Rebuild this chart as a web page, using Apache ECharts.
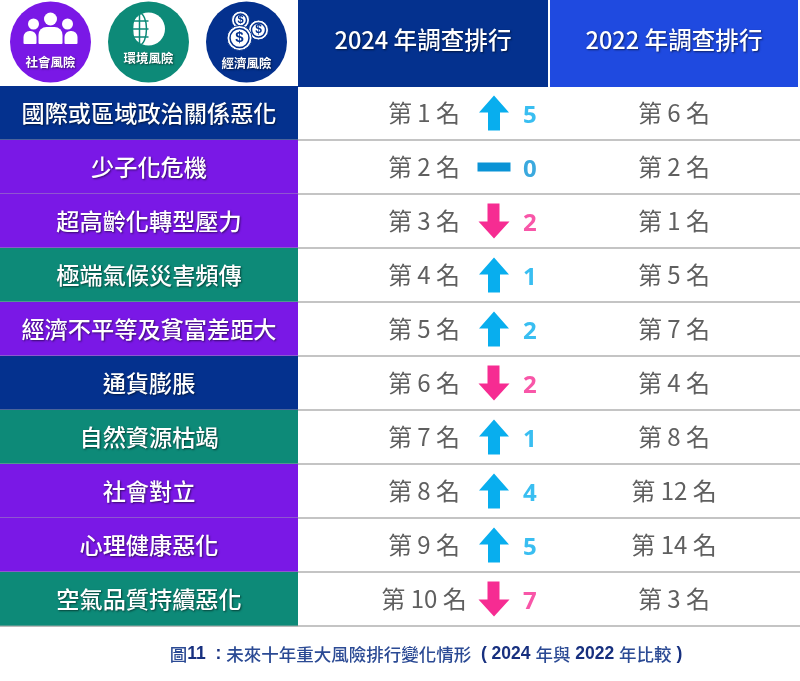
<!DOCTYPE html>
<html>
<head>
<meta charset="utf-8">
<style>html,body{margin:0;padding:0;background:#fff}</style>
<script src="https://cdn.jsdelivr.net/npm/echarts@6/dist/echarts.min.js"></script>
</head>
<body>
<div id="main" style="width:800px;height:681px;"></div>
<script type="text/javascript">
    // 表格資料
    var risks = ['國際或區域政治關係惡化', '少子化危機', '超高齡化轉型壓力', '極端氣候災害頻傳', '經濟不平等及貧富差距大',
        '通貨膨脹', '自然資源枯竭', '社會對立', '心理健康惡化', '空氣品質持續惡化'];
    var riskTypes = ['經濟風險', '社會風險', '社會風險', '環境風險', '社會風險',
        '經濟風險', '環境風險', '社會風險', '社會風險', '環境風險'];
    var rank2024 = [1, 2, 3, 4, 5, 6, 7, 8, 9, 10];
    var rank2022 = [6, 2, 1, 5, 7, 4, 8, 12, 14, 3];
    var change = [5, 0, 2, 1, 2, 2, 1, 4, 5, 7];
    var direction = ['up', 'flat', 'down', 'up', 'up', 'down', 'up', 'up', 'up', 'down'];
    var headers = ['2024 年調查排行', '2022 年調查排行'];
    var legendTypes = ['社會風險', '環境風險', '經濟風險'];
    var caption = '{n|圖}{b|11  : }{n|未來十年重大風險排行變化情形}{b|  ( 2024 }{n|年與}{b| 2022 }{n|年比較}{b| )}';

    var typeColor = { '社會風險': '#7a18e6', '環境風險': '#0d8a78', '經濟風險': '#04318e' };
    var changeColor = { up: '#08aeee', flat: '#0a93d6', down: '#f62c92' };
    var cjk = '"Noto Sans CJK TC"';
    var upArrow = 'path://M15 0L30 17H21V35H9V17H0Z';
    var downArrow = 'path://M9 0H21V18H31L15.5 35L0 18H9Z';
    var flatBar = 'path://M0 0H33V9H0Z';
    var symbols = { up: upArrow, down: downArrow, flat: flatBar };
    var sizes = { up: [30, 35], down: [31, 35], flat: [33, 9] };

    // 欄位位置（x 軸以像素寬度為單位）
    var labelCol = [0, 298];
    var rank2024X = 424, arrowX = 494, changeX = 523, rank2022X = 674;

    function centerText(x, y, text, font, fill, shadow) {
        var style = { x: x, y: y, text: text, font: font, fill: fill, align: 'center', verticalAlign: 'middle' };
        if (shadow) {
            style.textShadowColor = 'rgba(0,0,0,0.55)';
            style.textShadowBlur = 2;
            style.textShadowOffsetX = 1;
            style.textShadowOffsetY = 1;
        }
        return { type: 'text', style: style };
    }

    function renderRow(params, api) {
        var i = api.value(1);
        var left = api.coord([labelCol[0], i]);
        var right = api.coord([labelCol[1], i]);
        var h = api.size([0, 1])[1];
        var bottom = left[1] + h / 2;
        return {
            type: 'group',
            children: [
                {
                    type: 'rect',
                    shape: { x: left[0], y: left[1] - h / 2, width: right[0] - left[0], height: h },
                    style: { fill: typeColor[riskTypes[i]] }
                },
                // 列與列之間的淡灰細線
                {
                    type: 'line',
                    shape: { x1: left[0], y1: bottom, x2: right[0], y2: bottom },
                    style: { stroke: 'rgba(176,176,176,0.55)', lineWidth: 1.5 }
                },
                centerText((left[0] + right[0]) / 2, left[1], risks[i], '500 23.2px ' + cjk, '#fff', true),
                centerText(api.coord([rank2024X, i])[0], left[1], '第 ' + rank2024[i] + ' 名', '24px ' + cjk, '#5f5f5f'),
                centerText(api.coord([rank2022X, i])[0], left[1], '第 ' + rank2022[i] + ' 名', '24px ' + cjk, '#5f5f5f')
            ]
        };
    }

    function renderHeader(params, api) {
        var i = params.dataIndex;
        var a = api.coord([api.value(0), 0]);
        var b = api.coord([api.value(1), 0]);
        var h = api.size([0, 1])[1];
        return {
            type: 'group',
            children: [
                {
                    type: 'rect',
                    shape: { x: a[0], y: 0, width: b[0] - a[0], height: h + 1 },
                    style: { fill: i === 0 ? '#04318e' : '#1f4ae0' }
                },
                centerText((a[0] + b[0]) / 2, a[1] - 3, headers[i], '500 23.6px ' + cjk, '#fff', true)
            ]
        };
    }

    function renderIcon(params, api) {
        var i = params.dataIndex;
        var c = api.coord([api.value(0), 0]);
        var x = c[0], y = c[1] - 1;
        var name = legendTypes[i];
        var color = typeColor[name];
        var kids = [{ type: 'circle', shape: { cx: x, cy: y, r: 40.5 }, style: { fill: color } }];
        var white = { fill: '#fff' };
        if (i === 0) {
            kids.push(
                { type: 'circle', shape: { cx: x, cy: y - 23, r: 6.5 }, style: white },
                { type: 'circle', shape: { cx: x - 17, cy: y - 18, r: 5.5 }, style: white },
                { type: 'circle', shape: { cx: x + 17, cy: y - 18, r: 5.5 }, style: white },
                { type: 'rect', shape: { x: x - 27, y: y - 11, width: 13, height: 13, r: [6, 6, 1, 1] }, style: white },
                { type: 'rect', shape: { x: x + 14, y: y - 11, width: 13, height: 13, r: [6, 6, 1, 1] }, style: white },
                { type: 'rect', shape: { x: x - 12, y: y - 15, width: 24, height: 17, r: [8, 8, 1, 1] }, style: white }
            );
        } else if (i === 1) {
            var gy = y - 13;
            var line = { stroke: color, lineWidth: 1.5, fill: null };
            kids.push(
                { type: 'circle', shape: { cx: x, cy: gy, r: 16.5 }, style: white },
                { type: 'ellipse', shape: { cx: x - 9, cy: gy, rx: 7, ry: 16 }, style: line },
                { type: 'line', shape: { x1: x - 16, y1: gy - 8, x2: x, y2: gy - 8 }, style: line },
                { type: 'line', shape: { x1: x - 16, y1: gy, x2: x, y2: gy }, style: line },
                { type: 'line', shape: { x1: x - 16, y1: gy + 8, x2: x, y2: gy + 8 }, style: line },
                { type: 'line', shape: { x1: x - 9, y1: gy - 16, x2: x - 9, y2: gy + 16 }, style: line }
            );
        } else {
            [[-6, -22, 9], [12, -12, 10], [-7, -4, 12.5]].forEach(function (coin) {
                kids.push(
                    { type: 'circle', shape: { cx: x + coin[0], cy: y + coin[1], r: coin[2] }, style: { fill: '#fff', stroke: color, lineWidth: 1 } },
                    { type: 'circle', shape: { cx: x + coin[0], cy: y + coin[1], r: coin[2] - 3 }, style: { fill: '#fff', stroke: color, lineWidth: 1.5 } },
                    centerText(x + coin[0], y + coin[1], '$', 'bold ' + Math.round(coin[2] * 1.2) + 'px "Liberation Sans"', color)
                );
            });
        }
        var textY = i === 1 ? y + 16 : (i === 0 ? y + 20 : y + 21);
        kids.push(centerText(x, textY, name, 'bold 12.5px ' + cjk, '#fff', true));
        return { type: 'group', children: kids };
    }

    var myChart = echarts.init(document.getElementById('main'));

    var option = {
        animation: false,
        backgroundColor: '#fff',
        title: {
            text: caption,
            left: 421,
            top: 640,
            textAlign: 'center',
            textStyle: {
                rich: {
                    b: { fontFamily: '"Liberation Sans"', fontWeight: 'bold', fontSize: 17.5, color: '#17307f' },
                    n: { fontFamily: cjk, fontWeight: 500, fontSize: 17.5, color: '#2b4a94' }
                }
            }
        },
        grid: [
            { left: 0, right: 0, top: 86, height: 540 },
            { left: 0, right: 0, top: 0, height: 86 }
        ],
        xAxis: [
            { type: 'value', min: 0, max: 800, show: false },
            { type: 'value', min: 0, max: 800, show: false, gridIndex: 1 }
        ],
        yAxis: [
            {
                type: 'category',
                data: risks,
                inverse: true,
                axisLine: { show: false },
                axisTick: { show: false },
                axisLabel: { show: false },
                splitLine: { show: true, showMinLine: false, lineStyle: { color: '#b0b0b0', width: 1.5 } }
            },
            { type: 'category', data: [''], show: false, gridIndex: 1 }
        ],
        series: [
            {
                type: 'custom',
                renderItem: renderRow,
                encode: { x: 0, y: 1 },
                data: risks.map(function (r, i) { return [labelCol[0], i]; })
            },
            {
                type: 'scatter',
                symbolKeepAspect: false,
                data: change.map(function (v, i) {
                    return {
                        value: [arrowX, i],
                        symbol: symbols[direction[i]],
                        symbolSize: sizes[direction[i]],
                        itemStyle: { color: changeColor[direction[i]], opacity: 1 }
                    };
                })
            },
            {
                type: 'scatter',
                symbolSize: 0,
                data: change.map(function (v, i) {
                    return {
                        value: [changeX, i],
                        label: {
                            show: true,
                            position: 'right',
                            distance: 0,
                            offset: [0, 3],
                            formatter: String(v),
                            color: changeColor[direction[i]],
                            fontFamily: '"Open Sans"',
                            fontWeight: 'bold',
                            fontSize: 24
                        }
                    };
                })
            },
            {
                type: 'custom',
                xAxisIndex: 1,
                yAxisIndex: 1,
                renderItem: renderHeader,
                data: [[298, 548], [550, 798]]
            },
            {
                type: 'custom',
                xAxisIndex: 1,
                yAxisIndex: 1,
                renderItem: renderIcon,
                data: [[50.5, 0], [148.5, 0], [246.5, 0]]
            }
        ]
    };

    myChart.setOption(option);
</script>
</body>
</html>
